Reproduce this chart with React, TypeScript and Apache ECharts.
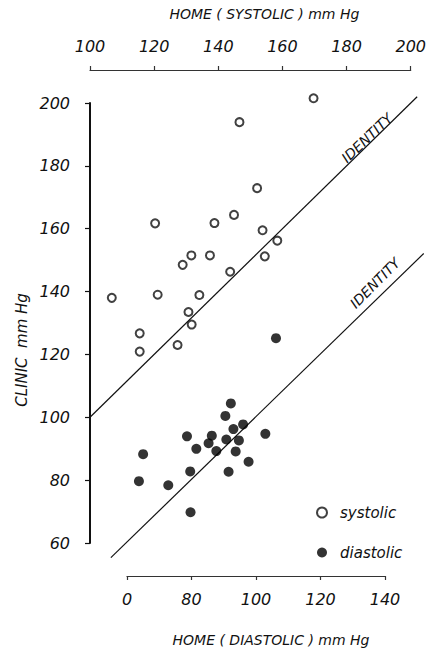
import React, { useEffect, useRef } from "react";
import * as echarts from "echarts";

// Systolic: home systolic vs clinic
const systolicHome = [169.7, 146.6, 152.1, 120.3, 138.8, 144.9, 153.8, 158.4, 128.9, 131.6, 137.4, 154.5, 143.7, 106.8, 121.1, 134.1, 130.7, 131.7, 115.5, 115.5, 127.3];
const systolicClinic = [201.5, 193.9, 172.9, 161.7, 161.8, 164.4, 159.5, 156.2, 148.5, 151.5, 151.5, 151.2, 146.3, 138.0, 139.0, 138.9, 133.5, 129.5, 126.7, 120.9, 123.0];

// Diastolic: home diastolic vs clinic
const diastolicHome = [106.2, 92.2, 90.5, 96.0, 93.0, 78.6, 86.3, 102.9, 85.3, 90.8, 94.7, 81.5, 87.7, 93.7, 65.0, 97.7, 79.6, 91.5, 63.7, 72.8, 79.7];
const diastolicClinic = [125.0, 104.2, 100.2, 97.5, 96.0, 93.7, 93.9, 94.5, 91.5, 92.7, 92.4, 89.7, 89.0, 88.9, 88.0, 85.6, 82.5, 82.4, 79.4, 78.1, 69.5];

// identity lines (start, end) in mm Hg
const identitySystolic = [100, 202];
const identityDiastolic = [55, 152];

const systolicTicks = [100, 120, 140, 160, 180, 200];
const diastolicTicks = [60, 80, 100, 120, 140];
const diastolicTickLabels = ["0", "80", "100", "120", "140"];
const clinicTicks = [60, 80, 100, 120, 140, 160, 180, 200];

const FONT = "DejaVu Sans";
const INK = "#111";

export default function App() {
  const ref = useRef<HTMLDivElement>(null);

  useEffect(() => {
    if (!ref.current) return;
    const chart = echarts.init(ref.current, undefined, { renderer: "svg" });

    const labelStyle = {
      fontFamily: FONT,
      fontStyle: "italic" as const,
      fontSize: 15,
      color: INK,
    };

    const identityRender = (params: any, api: any) => {
      const a = api.value(0);
      const b = api.value(1);
      const p1 = api.coord([a, a]);
      const p2 = api.coord([b, b]);
      return {
        type: "line",
        shape: { x1: p1[0], y1: p1[1], x2: p2[0], y2: p2[1] },
        style: { stroke: INK, lineWidth: 1.2 },
        silent: true,
      };
    };

    chart.setOption({
      animation: false,
      backgroundColor: "#fff",
      grid: [
        { left: 90, top: 103, width: 323, height: 440 },
        { left: 127, top: 103, width: 258, height: 440 },
      ],
      xAxis: [
        {
          type: "value",
          gridIndex: 0,
          position: "top",
          offset: 33,
          min: systolicTicks[0],
          max: systolicTicks[systolicTicks.length - 1],
          interval: 20,
          splitLine: { show: false },
          axisLine: { show: true, lineStyle: { color: "#333", width: 1.2 } },
          axisTick: { show: true, length: 4, lineStyle: { color: "#333", width: 1.2 } },
          axisLabel: { ...labelStyle, fontSize: 16, margin: 16 },
          name: "HOME ( SYSTOLIC ) mm Hg",
          nameLocation: "middle",
          nameGap: 49,
          nameTextStyle: { ...labelStyle, fontSize: 14, padding: [0, 0, 0, 28] },
        },
        {
          type: "value",
          gridIndex: 1,
          position: "bottom",
          offset: 34,
          min: diastolicTicks[0],
          max: diastolicTicks[diastolicTicks.length - 1],
          interval: 20,
          splitLine: { show: false },
          axisLine: { show: true, lineStyle: { color: "#333", width: 1.2 } },
          axisTick: { show: true, length: 4, lineStyle: { color: "#333", width: 1.2 } },
          axisLabel: {
            ...labelStyle,
            fontSize: 16,
            margin: 15,
            formatter: (v: number) => {
              const i = diastolicTicks.indexOf(v);
              return i >= 0 ? diastolicTickLabels[i] : String(v);
            },
          },
          name: "HOME ( DIASTOLIC ) mm Hg",
          nameLocation: "middle",
          nameGap: 57,
          nameTextStyle: { ...labelStyle, fontSize: 14, padding: [0, 0, 0, 30] },
        },
      ],
      yAxis: [
        {
          type: "value",
          gridIndex: 0,
          min: clinicTicks[0],
          max: clinicTicks[clinicTicks.length - 1],
          interval: 20,
          splitLine: { show: false },
          axisLine: { show: true, lineStyle: { color: INK, width: 2 } },
          axisTick: { show: true, length: 5, lineStyle: { color: INK, width: 1.2 } },
          axisLabel: { ...labelStyle, fontSize: 16, margin: 20 },
        },
        {
          type: "value",
          gridIndex: 1,
          min: clinicTicks[0],
          max: clinicTicks[clinicTicks.length - 1],
          show: false,
        },
      ],
      legend: {
        orient: "vertical",
        left: 311,
        top: 500,
        itemGap: 25,
        itemWidth: 10,
        itemHeight: 10,
        data: ["systolic", "diastolic"],
        textStyle: { ...labelStyle, padding: [0, 0, 0, 8] },
      },
      graphic: [
        {
          type: "text",
          x: 22,
          y: 350,
          rotation: Math.PI / 2,
          style: {
            text: "CLINIC  mm Hg",
            fontFamily: FONT,
            fontStyle: "italic",
            fontSize: 15,
            fill: INK,
            align: "center",
            verticalAlign: "middle",
          },
        },
        {
          type: "text",
          x: 367,
          y: 138,
          rotation: 0.763,
          style: {
            text: "IDENTITY",
            fontFamily: FONT,
            fontStyle: "italic",
            fontSize: 14,
            fill: INK,
            align: "center",
            verticalAlign: "middle",
          },
        },
        {
          type: "text",
          x: 375,
          y: 283,
          rotation: 0.788,
          style: {
            text: "IDENTITY",
            fontFamily: FONT,
            fontStyle: "italic",
            fontSize: 14,
            fill: INK,
            align: "center",
            verticalAlign: "middle",
          },
        },
      ],
      series: [
        {
          name: "systolic",
          type: "scatter",
          xAxisIndex: 0,
          yAxisIndex: 0,
          clip: false,
          symbol: "emptyCircle",
          symbolSize: 8,
          itemStyle: { color: INK, borderColor: INK, borderWidth: 1.6 },
          data: systolicHome.map((x, i) => [x, systolicClinic[i]]),
          z: 5,
        },
        {
          name: "diastolic",
          type: "scatter",
          xAxisIndex: 1,
          yAxisIndex: 1,
          clip: false,
          symbol: "circle",
          symbolSize: 10,
          itemStyle: { color: "#000" },
          data: diastolicHome.map((x, i) => [x, diastolicClinic[i]]),
          z: 5,
        },
        {
          name: "identity-s",
          type: "custom",
          xAxisIndex: 0,
          yAxisIndex: 0,
          clip: false,
          silent: true,
          renderItem: identityRender,
          data: [identitySystolic],
        },
        {
          name: "identity-d",
          type: "custom",
          xAxisIndex: 1,
          yAxisIndex: 1,
          clip: false,
          silent: true,
          renderItem: identityRender,
          data: [identityDiastolic],
        },
      ],
    });

    return () => chart.dispose();
  }, []);

  return (
    <div
      ref={ref}
      style={{ position: "fixed", left: 0, top: 0, width: 429, height: 652 }}
    />
  );
}
